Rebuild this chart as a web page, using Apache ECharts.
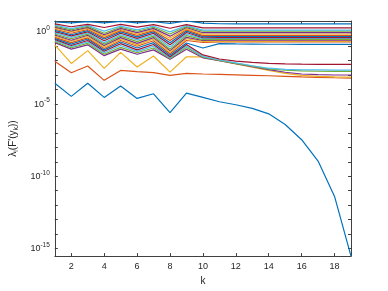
<!DOCTYPE html>
<html>
<head>
<meta charset="utf-8">
<script src="https://cdn.jsdelivr.net/npm/echarts@6/dist/echarts.min.js"></script>
<style>html,body{margin:0;padding:0;background:#fff}#c{width:388px;height:291px}</style>
</head>
<body>
<div id="c"></div>
<script>
// k values (iteration index)
const kValues = [1,2,3,4,5,6,7,8,9,10,11,12,13,14,15,16,17,18,19];
// log10 of eigenvalues lambda_i(F'(y_k)), one array per eigenvalue index i
const lam01 = [-3.56,-4.47,-3.56,-4.54,-3.75,-4.61,-4.29,-5.59,-4.25,-4.54,-4.84,-5.05,-5.30,-5.68,-6.42,-7.47,-8.95,-11.4,-15.53];
const lam02 = [-2.03,-2.83,-2.37,-3.36,-2.67,-2.76,-2.83,-3.01,-2.88,-2.92,-2.95,-2.98,-3.01,-3.04,-3.08,-3.12,-3.15,-3.18,-3.20];
const lam03 = [-0.90,-2.19,-1.30,-2.53,-1.42,-2.44,-1.67,-2.79,-1.73,-1.73,-2.00,-2.22,-2.45,-2.68,-2.88,-3.02,-3.09,-3.12,-3.13];
const lam04 = [-0.75,-1.20,-0.90,-1.65,-1.20,-1.55,-1.25,-1.90,-1.20,-1.80,-2.00,-2.20,-2.42,-2.62,-2.80,-2.92,-2.97,-2.99,-2.99];
const lam05 = [-0.68,-1.10,-0.80,-1.55,-1.08,-1.45,-1.12,-1.85,-1.08,-1.75,-1.98,-2.18,-2.38,-2.56,-2.66,-2.71,-2.73,-2.74,-2.74];
const lam06 = [-0.60,-1.02,-0.70,-1.45,-0.95,-1.35,-1.00,-1.80,-0.98,-1.70,-1.95,-2.15,-2.35,-2.52,-2.60,-2.63,-2.64,-2.65,-2.65];
const lam07 = [-0.52,-0.95,-0.60,-1.35,-0.82,-1.25,-0.88,-1.72,-0.88,-1.60,-1.88,-2.03,-2.12,-2.18,-2.22,-2.24,-2.25,-2.26,-2.26];
const lam08 = [-0.45,-0.85,-0.50,-1.25,-0.70,-1.12,-0.75,-1.62,-0.77,-1.12,-0.82,-0.84,-0.85,-0.86,-0.86,-0.87,-0.87,-0.87,-0.87];
const lam09 = [-0.38,-0.75,-0.42,-1.15,-0.60,-1.00,-0.62,-1.52,-0.60,-0.74,-0.70,-0.70,-0.70,-0.70,-0.70,-0.70,-0.70,-0.70,-0.70];
const lam10 = [-0.30,-0.65,-0.32,-1.05,-0.50,-0.90,-0.50,-1.42,-0.48,-0.66,-0.64,-0.64,-0.64,-0.64,-0.64,-0.64,-0.64,-0.64,-0.64];
const lam11 = [-0.22,-0.58,-0.24,-0.95,-0.40,-0.80,-0.40,-1.30,-0.38,-0.60,-0.58,-0.58,-0.58,-0.58,-0.58,-0.58,-0.58,-0.58,-0.58];
const lam12 = [-0.15,-0.48,-0.16,-0.85,-0.30,-0.68,-0.30,-1.20,-0.26,-0.54,-0.52,-0.52,-0.52,-0.52,-0.52,-0.52,-0.52,-0.52,-0.52];
const lam13 = [-0.06,-0.38,-0.08,-0.75,-0.20,-0.56,-0.20,-1.05,-0.15,-0.47,-0.46,-0.46,-0.46,-0.46,-0.46,-0.46,-0.46,-0.46,-0.46];
const lam14 = [0.02,-0.28,0.00,-0.62,-0.10,-0.45,-0.10,-0.90,-0.05,-0.41,-0.40,-0.40,-0.40,-0.40,-0.40,-0.40,-0.40,-0.40,-0.40];
const lam15 = [0.10,-0.20,0.08,-0.50,0.00,-0.35,0.00,-0.75,0.05,-0.33,-0.32,-0.32,-0.32,-0.32,-0.32,-0.32,-0.32,-0.32,-0.32];
const lam16 = [0.18,-0.10,0.16,-0.40,0.08,-0.25,0.08,-0.60,0.14,-0.26,-0.25,-0.25,-0.25,-0.25,-0.25,-0.25,-0.25,-0.25,-0.25];
const lam17 = [0.26,0.00,0.24,-0.30,0.16,-0.15,0.16,-0.45,0.22,-0.16,-0.15,-0.15,-0.15,-0.15,-0.15,-0.15,-0.15,-0.15,-0.15];
const lam18 = [0.33,0.06,0.31,-0.20,0.24,-0.05,0.24,-0.30,0.30,-0.06,-0.05,-0.05,-0.05,-0.05,-0.05,-0.05,-0.05,-0.05,-0.05];
const lam19 = [0.40,0.14,0.38,-0.10,0.32,0.04,0.32,-0.15,0.36,0.05,0.05,0.05,0.05,0.05,0.05,0.05,0.05,0.05,0.05];
const lam20 = [0.46,0.22,0.45,0.05,0.40,0.14,0.40,0.00,0.43,0.12,0.12,0.12,0.12,0.12,0.12,0.12,0.12,0.12,0.12];
const lam21 = [0.55,0.35,0.52,0.30,0.52,0.32,0.50,0.25,0.50,0.28,0.27,0.27,0.27,0.27,0.27,0.27,0.27,0.27,0.27];
const lam22 = [0.68,0.62,0.70,0.62,0.72,0.62,0.70,0.58,0.75,0.60,0.56,0.55,0.55,0.55,0.55,0.55,0.55,0.55,0.55];
const allLams = [lam01,lam02,lam03,lam04,lam05,lam06,lam07,lam08,lam09,lam10,lam11,lam12,lam13,lam14,lam15,lam16,lam17,lam18,lam19,lam20,lam21,lam22];
// tick values
const xTicks = [2,4,6,8,10,12,14,16,18];
const yTicks = [-15,-14,-13,-12,-11,-10,-9,-8,-7,-6,-5,-4,-3,-2,-1,0];
const yLabels = [-15,-10,-5,0];
const colors = ['#0072BD','#D95319','#EDB120','#7E2F8E','#77AC30','#4DBEEE','#A2142F'];

const chart = echarts.init(document.getElementById('c'), null, {renderer:'canvas'});
const axisCol = '#404040';
const textCol = '#262626';
const font = 'Liberation Sans, Arial, sans-serif';
const series = allLams.map((arr, i) => ({
  type: 'line',
  data: kValues.map((k, j) => [k, arr[j]]),
  showSymbol: false,
  symbol: 'none',
  lineStyle: {width: 1.2, color: colors[i % 7]},
  itemStyle: {color: colors[i % 7]},
  animation: false,
  z: 2
}));
const xBase = {
  type: 'value', min: 1, max: 19,
  axisLine: {show: true, onZero: false, lineStyle: {color: axisCol, width: 1}},
  axisTick: {show: true, inside: true, length: 3, customValues: xTicks, lineStyle: {color: axisCol}},
  splitLine: {show: false}
};
const yBase = {
  type: 'value', min: -15.53, max: 0.75,
  axisLine: {show: true, onZero: false, lineStyle: {color: axisCol, width: 1}},
  axisTick: {show: true, inside: true, length: 3, customValues: yTicks, lineStyle: {color: axisCol}},
  splitLine: {show: false}
};
chart.setOption({
  animation: false,
  backgroundColor: '#fff',
  color: colors,
  grid: {left: 50, right: 37, top: 21, bottom: 32, containLabel: false},
  xAxis: [
    Object.assign({}, xBase, {
      position: 'bottom',
      name: 'k', nameLocation: 'middle', nameGap: 18,
      nameTextStyle: {fontFamily: font, fontSize: 10, color: textCol},
      axisLabel: {customValues: xTicks, fontFamily: font, fontSize: 9, color: textCol, margin: 6}
    }),
    Object.assign({}, xBase, {position: 'top', axisLabel: {show: false}})
  ],
  yAxis: [
    Object.assign({}, yBase, {
      position: 'left',
      name: '{a|λ}{s|i}{a|(F\'(y}{s|k}{a|))}', nameLocation: 'middle', nameRotate: 90, nameGap: 30,
      nameTextStyle: {fontFamily: font, fontSize: 10, color: textCol,
        rich: {a: {fontFamily: font, fontSize: 10, color: textCol}, s: {fontFamily: font, fontSize: 7, color: textCol, padding: [6,0,0,0]}}},
      axisLabel: {
        customValues: yLabels, margin: 5,
        formatter: v => '{b|10}{p|' + v + '}',
        rich: {
          b: {fontFamily: font, fontSize: 9, color: textCol},
          p: {fontFamily: font, fontSize: 6.5, color: textCol, padding: [0,0,7,0]}
        }
      }
    }),
    Object.assign({}, yBase, {position: 'right', axisLabel: {show: false}})
  ],
  series: series
});
</script>
</body>
</html>
